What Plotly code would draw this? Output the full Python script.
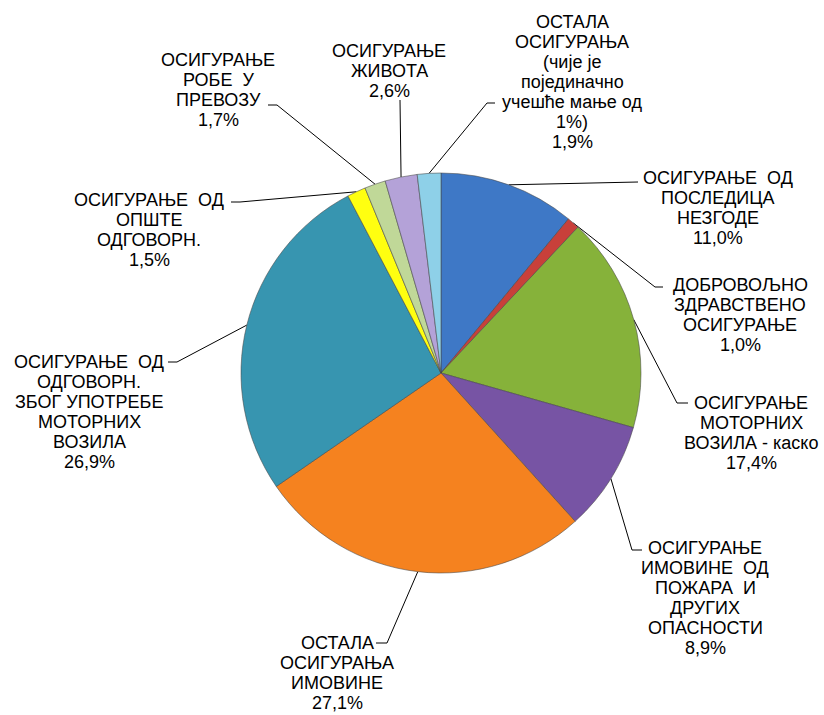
import math
import plotly.graph_objects as go

W, H = 824, 715

# ---- data ----
labels = [
    "ОСИГУРАЊЕ ОД ПОСЛЕДИЦА НЕЗГОДЕ",
    "ДОБРОВОЉНО ЗДРАВСТВЕНО ОСИГУРАЊЕ",
    "ОСИГУРАЊЕ МОТОРНИХ ВОЗИЛА - каско",
    "ОСИГУРАЊЕ ИМОВИНЕ ОД ПОЖАРА И ДРУГИХ ОПАСНОСТИ",
    "ОСТАЛА ОСИГУРАЊА ИМОВИНЕ",
    "ОСИГУРАЊЕ ОД ОДГОВОРН. ЗБОГ УПОТРЕБЕ МОТОРНИХ ВОЗИЛА",
    "ОСИГУРАЊЕ ОД ОПШТЕ ОДГОВОРН.",
    "ОСИГУРАЊЕ РОБЕ У ПРЕВОЗУ",
    "ОСИГУРАЊЕ ЖИВОТА",
    "ОСТАЛА ОСИГУРАЊА (чије је појединачно учешће мање од 1%)",
]
label_lines = [
    ["ОСИГУРАЊЕ  ОД", "ПОСЛЕДИЦА", "НЕЗГОДЕ"],
    ["ДОБРОВОЉНО", "ЗДРАВСТВЕНО", "ОСИГУРАЊЕ"],
    ["ОСИГУРАЊЕ", "МОТОРНИХ", "ВОЗИЛА - каско"],
    ["ОСИГУРАЊЕ", "ИМОВИНЕ  ОД", "ПОЖАРА  И", "ДРУГИХ", "ОПАСНОСТИ"],
    ["ОСТАЛА", "ОСИГУРАЊА", "ИМОВИНЕ"],
    ["ОСИГУРАЊЕ  ОД", "ОДГОВОРН.", "ЗБОГ УПОТРЕБЕ", "МОТОРНИХ", "ВОЗИЛА"],
    ["ОСИГУРАЊЕ  ОД", "ОПШТЕ", "ОДГОВОРН."],
    ["ОСИГУРАЊЕ", "РОБЕ  У", "ПРЕВОЗУ"],
    ["ОСИГУРАЊЕ", "ЖИВОТА"],
    ["ОСТАЛА", "ОСИГУРАЊА", "(чије је", "појединачно", "учешће мање од", "1%)"],
]
values = [11.0, 1.0, 17.4, 8.9, 27.1, 26.9, 1.5, 1.7, 2.6, 1.9]
value_text = ["11,0%", "1,0%", "17,4%", "8,9%", "27,1%", "26,9%", "1,5%", "1,7%", "2,6%", "1,9%"]
colors = ["#3E78C6", "#C8403A", "#86B23A", "#7754A4", "#F5821F",
          "#3795B0", "#FFFF10", "#C0D898", "#B4A2D8", "#8ED0E8"]

# ---- layout (pixel positions of pie and labels) ----
CX, CY, R = 441, 373, 200
LINE_H = 20
label_pos = [(718, 208), (740, 315), (751, 433), (705, 598), (337, 673),
             (89, 412), (149, 230), (218, 90), (389, 71), (572, 82)]
leader_elbow = [[(628, 182), (638, 182)], [(655, 287), (663, 287)],
                [(677, 403), (688, 403)], [(632, 550), (642, 550)],
                [(387, 643), (376, 643)], [(177, 362), (168, 362)],
                [(240, 202), (231, 202)], [(277, 105), (268, 105)],
                [(400, 100)], [(487, 103), (495, 103)]]

fig = go.Figure()
fig.add_trace(go.Pie(
    labels=labels, values=values, sort=False, direction="clockwise",
    rotation=0, textinfo="none", hoverinfo="label+percent",
    marker=dict(colors=colors, line=dict(color="rgba(70,70,70,0.55)", width=1)),
    domain=dict(x=[(CX - R) / W, (CX + R) / W], y=[1 - (CY + R) / H, 1 - (CY - R) / H]),
    showlegend=False,
))

font = dict(family="Liberation Sans, Arial, sans-serif", size=18, color="black")
total = sum(values)
cum = 0.0
for i, v in enumerate(values):
    mid = (cum + v / 2) / total * 2 * math.pi
    cum += v
    ax = CX + R * math.sin(mid)
    ay = CY - R * math.cos(mid)
    pts = [(ax, ay)] + leader_elbow[i]
    fig.add_trace(go.Scatter(
        x=[p[0] for p in pts], y=[p[1] for p in pts], mode="lines",
        line=dict(color="black", width=1), hoverinfo="skip", showlegend=False,
        xaxis="x", yaxis="y",
    ))
    lx, ly = label_pos[i]
    lines = label_lines[i] + [value_text[i]]
    n = len(lines)
    for k, t in enumerate(lines):
        fig.add_annotation(
            x=lx, y=ly + (k - (n - 1) / 2) * LINE_H, xref="x", yref="y",
            showarrow=False, text=t, align="center",
            xanchor="center", yanchor="middle", font=font,
        )

fig.update_layout(
    width=W, height=H, margin=dict(l=0, r=0, t=0, b=0),
    paper_bgcolor="white", plot_bgcolor="rgba(0,0,0,0)",
    xaxis=dict(range=[0, W], visible=False, domain=[0, 1], fixedrange=True),
    yaxis=dict(range=[H, 0], visible=False, domain=[0, 1], fixedrange=True),
)

fig.write_html("out.html", config={"displayModeBar": False},
               post_script="document.body.style.margin='0';document.body.style.overflow='hidden';")
